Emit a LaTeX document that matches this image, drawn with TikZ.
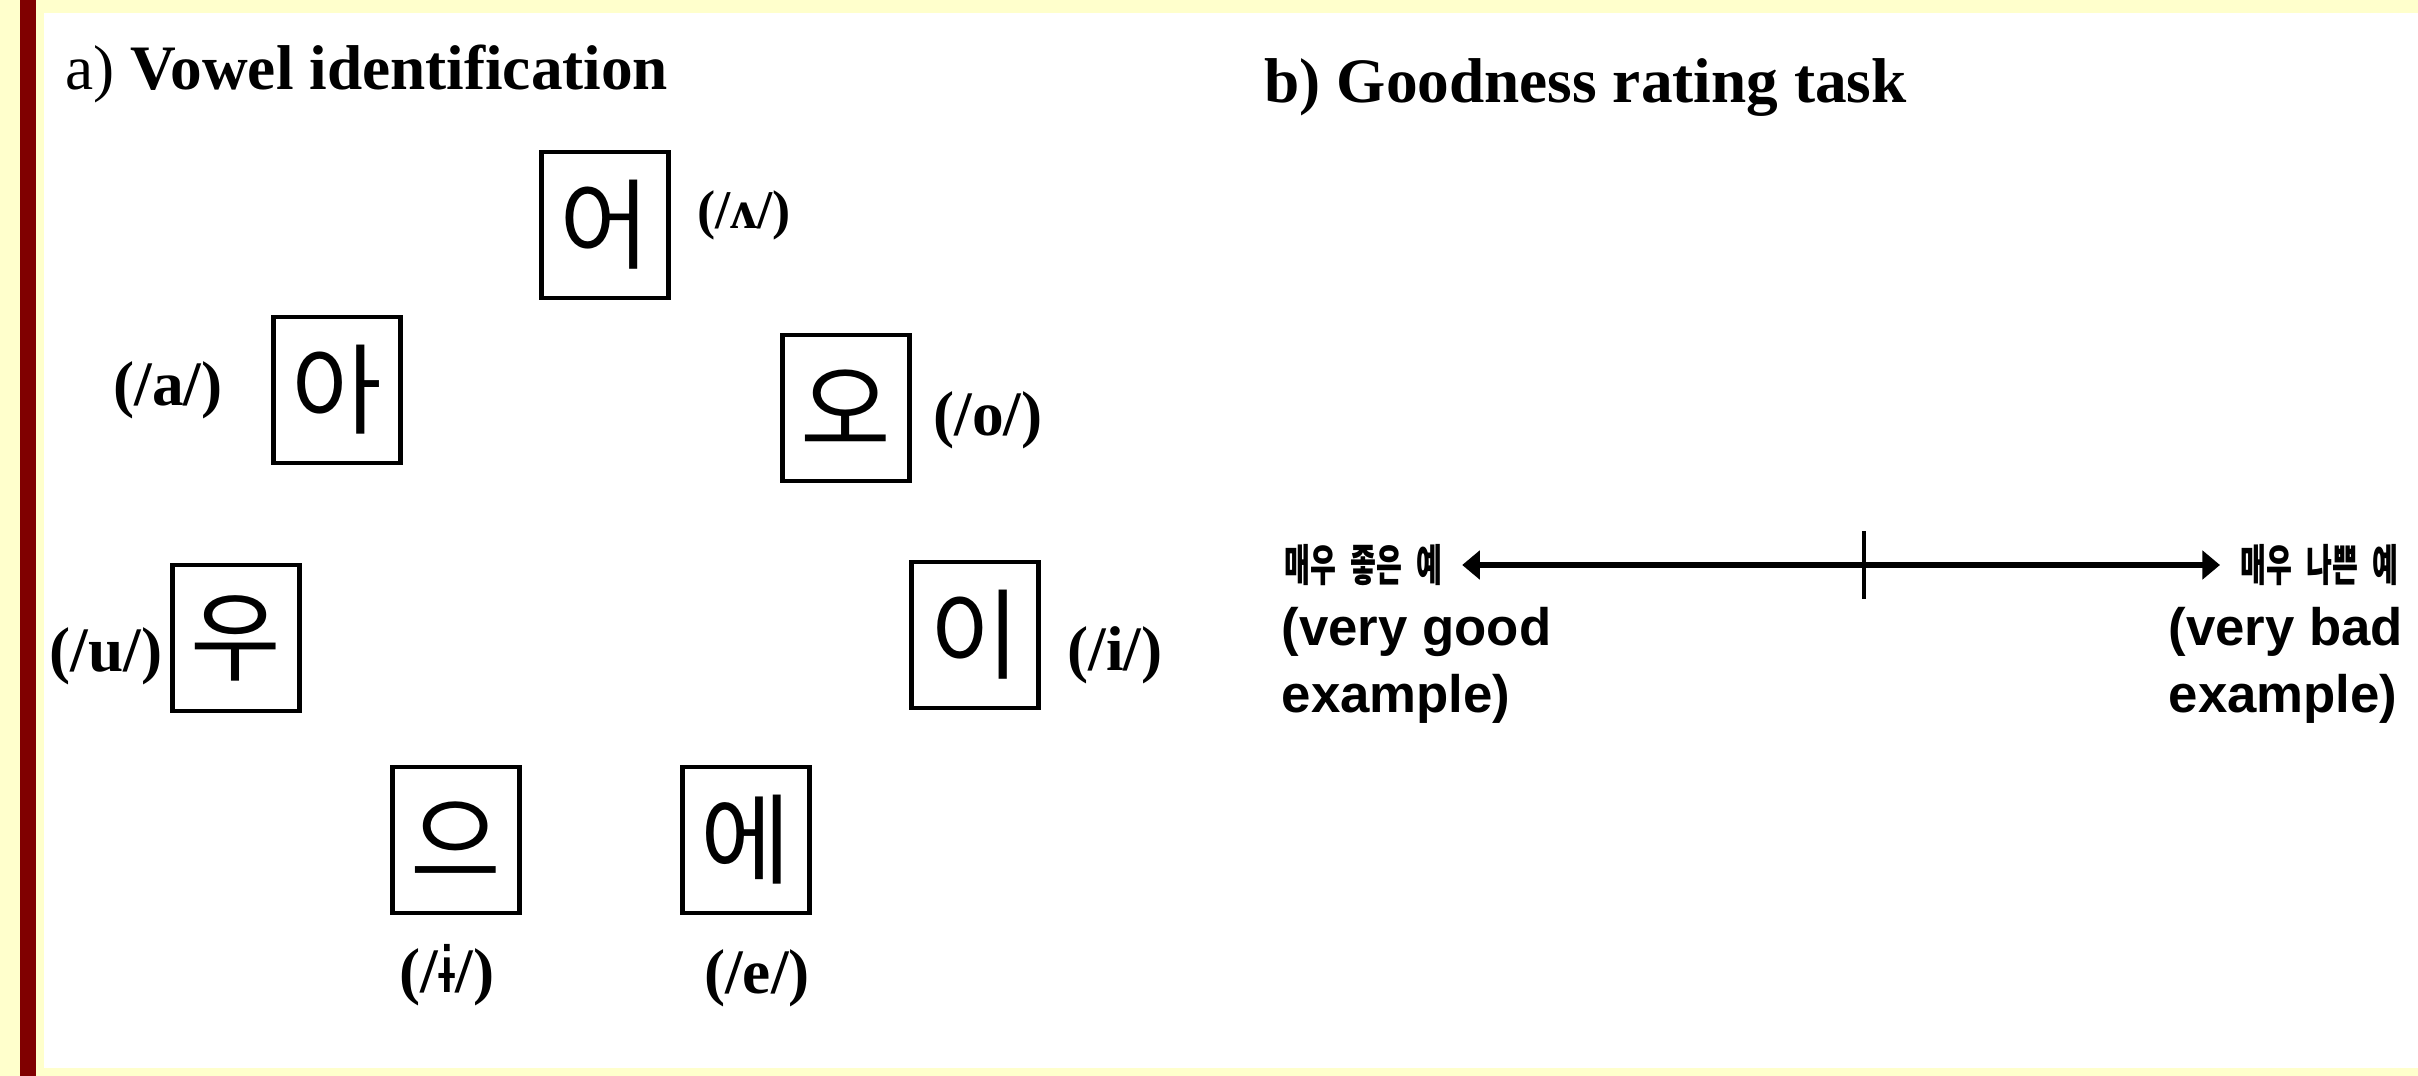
\documentclass[tikz,border=0pt]{standalone}
\usepackage{fontspec}
\setmainfont{Liberation Serif}
\newfontfamily\arialfont{Liberation Sans}
\newfontfamily\hangul{Noto Sans CJK KR}
\newfontfamily\hangulcond[FakeStretch=0.64, WordSpace=2.2]{Noto Sans CJK KR}
\newfontfamily\ipafont{DejaVu Sans}
\usetikzlibrary{arrows.meta, positioning}
\definecolor{paleyellow}{HTML}{FFFFCC}
\definecolor{barred}{HTML}{800000}

\begin{document}
\begin{tikzpicture}[x=0.01cm, y=-0.01cm,
  >={Triangle[length=5pt,width=8pt]},
  vbox/.style={draw, line width=1.2pt, minimum width=1.27cm, minimum height=1.46cm,
    inner sep=0pt, font=\hangul\fontsize{28}{30}\selectfont},
  ipa/.style={inner sep=0pt, font=\bfseries\fontsize{18}{20}\selectfont},
  heading/.style={inner sep=0pt, anchor=base west, font=\fontsize{18}{20}\selectfont},
  endlabel/.style={inner sep=0pt, anchor=west, font=\hangulcond\bfseries\fontsize{12.5}{14}\selectfont},
  gloss/.style={inner sep=0pt, anchor=north west, align=left,
    font=\arialfont\bfseries\fontsize{15}{18.8}\selectfont}]
  % page frame
  \fill[paleyellow] (0,0) rectangle (2418,1076);
  \fill[barred] (20,0) rectangle (36,1076);
  \fill[white] (44,13) rectangle (2418,1068);
  \useasboundingbox (0,0) rectangle (2418,1076);

  % a) vowel identification
  \node[heading] (ttlA) at (65,90) {a) \textbf{Vowel identification}};
  \node[vbox] (eo) at (605,225) {어};
  \node[vbox] (a)  at (337,390) {아};
  \node[vbox] (o)  at (846,408) {오};
  \node[vbox] (u)  at (236,638) {우};
  \node[vbox] (i)  at (975,635) {이};
  \node[vbox] (eu) at (456,840) {으};
  \node[vbox] (e)  at (746,840) {에};
  \node[ipa, font=\bfseries\fontsize{15.5}{18}\selectfont] (lEo) at (744,215) {(/ʌ/)};
  \node[ipa] (lA)  at (168,390) {(/a/)};
  \node[ipa] (lO)  at (988,420) {(/o/)};
  \node[ipa] (lU)  at (106,656) {(/u/)};
  \node[ipa] (lI)  at (1115,655) {(/i/)};
  \node[ipa] (lEu) at (447,975) {(/{\ipafont\mdseries ɨ}/)};
  \node[ipa] (lE)  at (757,978) {(/e/)};

  % b) goodness rating
  \node[heading] (ttlB) at (1264,103) {\textbf{b) Goodness rating task}};
  \node[endlabel] (good) at (1284,565) {매우 좋은 예};
  \node[endlabel] (bad)  at (2240,565) {매우 나쁜 예};
  \node[gloss] (goodTxt) at (1281,607) {(very good\\example)};
  \node[gloss] (badTxt)  at (2168,607) {(very bad\\example)};
  \draw[line width=1.7pt, <->]
    ([xshift=0.19cm]good.east) -- ([xshift=-0.2cm]bad.west);
  \coordinate (mid) at (1864,565);
  \draw[line width=1.4pt] (mid) ++(0,-34) -- ++(0,68);
\end{tikzpicture}
\end{document}
